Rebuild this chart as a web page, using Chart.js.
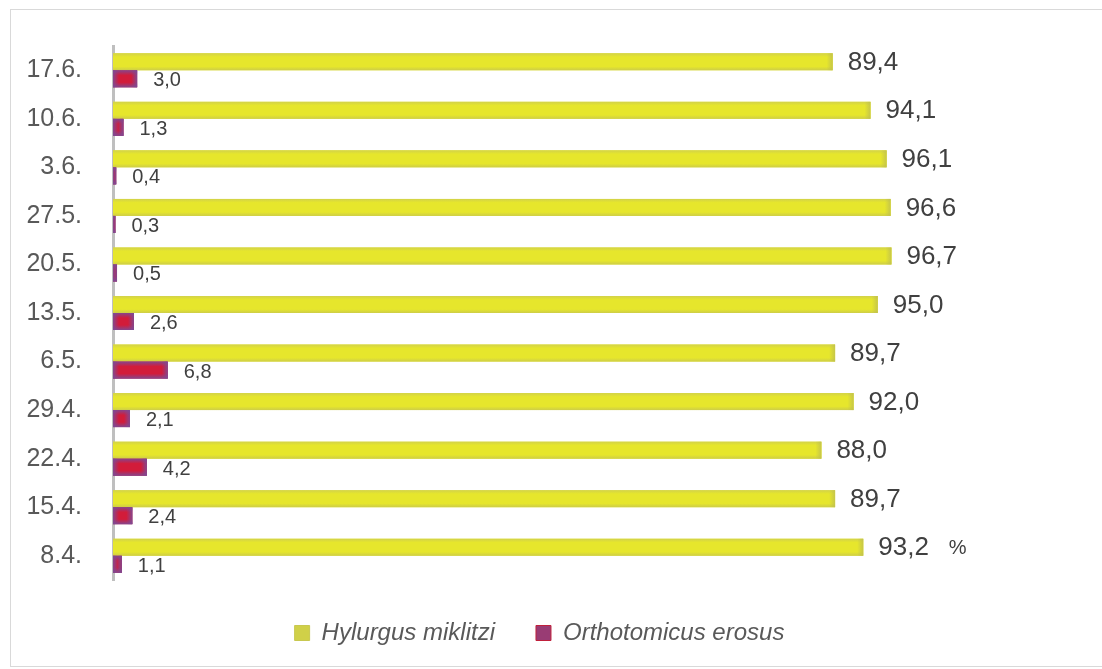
<!DOCTYPE html>
<html>
<head>
<meta charset="utf-8">
<script src="https://cdn.jsdelivr.net/npm/chart.js@4/dist/chart.umd.min.js"></script>
<style>
html,body{margin:0;padding:0;background:#fff;overflow:hidden;}
#frame{position:absolute;left:10px;top:9px;width:1100px;height:658px;border:1px solid #D9D9D9;border-right:none;box-sizing:border-box;}
#wrap{position:absolute;left:0;top:0;width:1102px;height:669px;}
</style>
</head>
<body>
<div id="frame"></div>
<div id="wrap"><canvas id="c" width="1102" height="669"></canvas></div>
<script>
// Categories listed top to bottom as they appear in the chart
const categories = ['17.6.', '10.6.', '3.6.', '27.5.', '20.5.', '13.5.', '6.5.', '29.4.', '22.4.', '15.4.', '8.4.'];
const hylurgusValues = [89.4, 94.1, 96.1, 96.6, 96.7, 95.0, 89.7, 92.0, 88.0, 89.7, 93.2];
const orthotomicusValues = [3.0, 1.3, 0.4, 0.3, 0.5, 2.6, 6.8, 2.1, 4.2, 2.4, 1.1];
const seriesNames = ['Hylurgus miklitzi', 'Orthotomicus erosus'];
const unitLabel = '%';

const FONT = '"Liberation Sans", Arial, sans-serif';

function fmt(v) { return v.toFixed(1).replace('.', ','); }

const gradientPlugin = {
  id: 'barGradients',
  afterDatasetsDraw(chart) {
    const ctx = chart.ctx;
    chart.data.datasets.forEach((ds, di) => {
      const meta = chart.getDatasetMeta(di);
      meta.data.forEach((el) => {
        const p = el.getProps(['x', 'y', 'base', 'height'], true);
        const x0 = Math.min(p.base, p.x), x1 = Math.max(p.base, p.x);
        const y0 = p.y - p.height / 2, y1 = p.y + p.height / 2;
        const w = x1 - x0, h = y1 - y0;
        if (w <= 0) return;
        ctx.save();
        if (di === 0) {
          const g = ctx.createLinearGradient(0, y0, 0, y1);
          g.addColorStop(0, '#D2D24A');
          g.addColorStop(0.22, '#E6E62C');
          g.addColorStop(0.78, '#E6E62C');
          g.addColorStop(1, '#CDCD48');
          ctx.fillStyle = g;
          ctx.fillRect(x0, y0, w, h);
          const g2 = ctx.createLinearGradient(x1 - 6, 0, x1, 0);
          g2.addColorStop(0, 'rgba(190,190,80,0)');
          g2.addColorStop(1, 'rgba(190,190,80,0.8)');
          ctx.fillStyle = g2;
          ctx.fillRect(Math.max(x0, x1 - 6), y0, Math.min(6, w), h);
        } else {
          ctx.fillStyle = '#D21C3A';
          ctx.fillRect(x0, y0, w, h);
          const edge = 'rgba(124,74,150,0.9)';
          const clear = 'rgba(124,74,150,0)';
          const ew = Math.min(6, w / 2);
          let g = ctx.createLinearGradient(x0, 0, x0 + 6, 0);
          g.addColorStop(0, edge); g.addColorStop(1, clear);
          ctx.fillStyle = g; ctx.fillRect(x0, y0, ew, h);
          g = ctx.createLinearGradient(x1, 0, x1 - 6, 0);
          g.addColorStop(0, edge); g.addColorStop(1, clear);
          ctx.fillStyle = g; ctx.fillRect(x1 - ew, y0, ew, h);
          g = ctx.createLinearGradient(0, y0, 0, y0 + 5);
          g.addColorStop(0, edge); g.addColorStop(1, clear);
          ctx.fillStyle = g; ctx.fillRect(x0, y0, w, 5);
          g = ctx.createLinearGradient(0, y1, 0, y1 - 5);
          g.addColorStop(0, edge); g.addColorStop(1, clear);
          ctx.fillStyle = g; ctx.fillRect(x0, y1 - 5, w, 5);
        }
        ctx.restore();
      });
    });
  }
};

const labelPlugin = {
  id: 'valueLabels',
  afterDatasetsDraw(chart) {
    const ctx = chart.ctx;
    ctx.save();
    ctx.textBaseline = 'middle';
    ctx.textAlign = 'left';
    ctx.fillStyle = '#404040';
    chart.data.datasets.forEach((ds, di) => {
      const meta = chart.getDatasetMeta(di);
      meta.data.forEach((el, i) => {
        const p = el.getProps(['x', 'y'], true);
        const txt = fmt(ds.data[i]);
        if (di === 0) {
          ctx.font = '26px ' + FONT;
          const lx = p.x + 15, ly = p.y + 1;
          ctx.fillText(txt, lx, ly);
          if (i === ds.data.length - 1) {
            const tw = ctx.measureText(txt).width;
            ctx.font = '20px ' + FONT;
            ctx.fillText(unitLabel, lx + tw + 20, ly);
          }
        } else {
          ctx.font = '20px ' + FONT;
          ctx.fillText(txt, p.x + 16, p.y + 2);
        }
      });
    });
    ctx.restore();
  }
};

const legendColors = [
  { fill: '#D0D048', stroke: '#C8C850' },
  { fill: '#993C74', stroke: '#C0203C' }
];

new Chart(document.getElementById('c'), {
  type: 'bar',
  data: {
    labels: categories,
    datasets: [
      { label: seriesNames[0], data: hylurgusValues, backgroundColor: '#E6E62C', borderWidth: 0 },
      { label: seriesNames[1], data: orthotomicusValues, backgroundColor: '#7D4A93', borderWidth: 0 }
    ]
  },
  options: {
    indexAxis: 'y',
    responsive: false,
    animation: false,
    devicePixelRatio: 1,
    categoryPercentage: 0.7,
    barPercentage: 1.0,
    layout: { padding: { left: 0, top: 43, right: 23, bottom: 14 } },
    scales: {
      x: { min: 0, max: 120, display: false },
      y: {
        grid: { display: false, drawTicks: false },
        border: { display: true, color: '#BFBFBF', width: 3 },
        ticks: { color: '#595959', font: { family: FONT, size: 25 }, padding: 31 },
        afterFit(scale) { scale.width = 113; }
      }
    },
    plugins: {
      tooltip: { enabled: false },
      legend: {
        position: 'bottom',
        labels: {
          boxWidth: 15,
          boxHeight: 15,
          padding: 41,
          color: '#595959',
          font: { family: FONT, size: 24, style: 'italic' },
          generateLabels(chart) {
            return chart.data.datasets.map((ds, i) => ({
              text: ds.label,
              fillStyle: legendColors[i].fill,
              strokeStyle: legendColors[i].stroke,
              lineWidth: 1,
              fontColor: '#595959',
              hidden: false,
              datasetIndex: i
            }));
          }
        }
      }
    }
  },
  plugins: [gradientPlugin, labelPlugin]
});
</script>
</body>
</html>
